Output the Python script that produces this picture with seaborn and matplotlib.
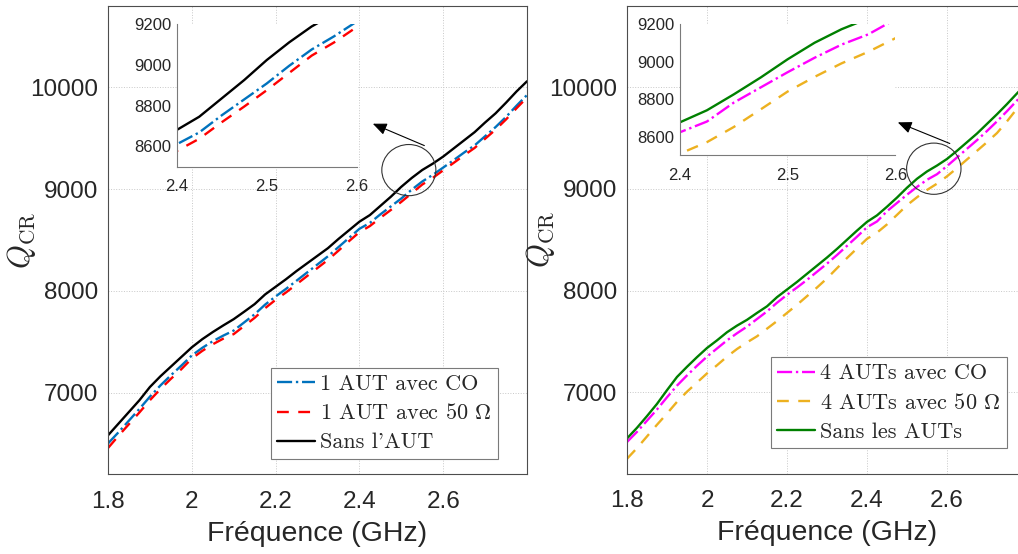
import numpy as np
import pandas as pd
import matplotlib
matplotlib.use("Agg")
import matplotlib.pyplot as plt
from matplotlib.patches import Ellipse
import seaborn as sns

# frequency grid (GHz)
freq = [1.800, 1.825, 1.850, 1.875, 1.900, 1.925, 1.950, 1.975, 2.000, 2.025,
        2.050, 2.075, 2.100, 2.125, 2.150, 2.175, 2.200, 2.225, 2.250, 2.275,
        2.300, 2.325, 2.350, 2.375, 2.400, 2.425, 2.450, 2.475, 2.500, 2.525,
        2.550, 2.575, 2.600, 2.625, 2.650, 2.675, 2.700, 2.725, 2.750, 2.775,
        2.800]

# left panel : 1 AUT
q_1aut_co = [6500, 6610, 6725, 6840, 6960, 7070, 7170, 7265, 7365, 7440,
             7505, 7560, 7610, 7690, 7770, 7865, 7945, 8020, 8100, 8180,
             8260, 8340, 8430, 8520, 8610, 8668, 8752, 8830, 8908, 8995,
             9075, 9140, 9212, 9285, 9360, 9430, 9520, 9610, 9710, 9820,
             9925]
q_1aut_50 = [6455, 6575, 6690, 6805, 6925, 7035, 7135, 7230, 7335, 7410,
             7475, 7530, 7575, 7655, 7735, 7830, 7912, 7985, 8065, 8145,
             8225, 8305, 8395, 8488, 8577, 8637, 8718, 8795, 8875, 8960,
             9045, 9110, 9185, 9258, 9333, 9405, 9495, 9585, 9685, 9795,
             9900]
q_sans_aut = [6580, 6695, 6810, 6925, 7055, 7160, 7255, 7350, 7445, 7525,
              7595, 7660, 7722, 7795, 7870, 7965, 8040, 8115, 8195, 8270,
              8345, 8420, 8510, 8595, 8680, 8745, 8835, 8925, 9023, 9110,
              9188, 9250, 9320, 9400, 9480, 9560, 9655, 9745, 9850, 9960,
              10060]

# right panel : 4 AUTs
q_4aut_co = [6510, 6610, 6720, 6830, 6950, 7065, 7165, 7260, 7350, 7430,
             7510, 7580, 7645, 7720, 7795, 7880, 7958, 8030, 8105, 8185,
             8265, 8350, 8440, 8530, 8623, 8680, 8781, 8862, 8943, 9020,
             9090, 9145, 9225, 9310, 9395, 9480, 9570, 9665, 9765, 9870,
             9975]
q_4aut_50 = [6345, 6450, 6565, 6680, 6790, 6905, 7005, 7095, 7185, 7265,
             7350, 7425, 7490, 7550, 7625, 7700, 7780, 7860, 7945, 8030,
             8120, 8220, 8320, 8415, 8509, 8570, 8651, 8745, 8840, 8918,
             8990, 9052, 9124, 9205, 9290, 9375, 9460, 9550, 9665, 9790,
             9900]
q_sans_auts = [6545, 6650, 6765, 6885, 7020, 7150, 7250, 7345, 7435, 7510,
               7590, 7655, 7712, 7780, 7845, 7935, 8010, 8085, 8165, 8245,
               8325, 8410, 8500, 8590, 8676, 8740, 8825, 8915, 9012, 9100,
               9172, 9230, 9295, 9375, 9460, 9545, 9640, 9735, 9835, 9940,
               10040]

labels_left = ["1 AUT avec CO", "1 AUT avec 50 $\\Omega$", "Sans l'AUT"]
labels_right = ["4 AUTs avec CO", "4 AUTs avec 50 $\\Omega$", "Sans les AUTs"]

main_xticks = [1.8, 2.0, 2.2, 2.4, 2.6]
main_xticklabels = ["1.8", "2", "2.2", "2.4", "2.6"]
main_yticks = [7000, 8000, 9000, 10000]
inset_xticks = [2.4, 2.5, 2.6]
inset_xticklabels = ["2.4", "2.5", "2.6"]
inset_yticks = [8600, 8800, 9000, 9200]

sns.set_theme(style="white")
plt.rcParams["font.family"] = ["Liberation Sans", "DejaVu Sans"]
plt.rcParams["mathtext.fontset"] = "cm"
plt.rcParams["xtick.direction"] = "in"
plt.rcParams["ytick.direction"] = "in"

axis_grey = "#262626"
spine_grey = "#4d4d4d"

fig = plt.figure(figsize=(10.18, 5.54), dpi=100)

W, H = 1018.0, 554.0


def px_axes(x0, y0, x1, y1):
    """axes from pixel box (top-left origin)"""
    return fig.add_axes([x0 / W, 1 - y1 / H, (x1 - x0) / W, (y1 - y0) / H])


def style_main(ax, ylab_x):
    ax.set_xlim(1.8, 2.8)
    ax.set_ylim(6200, 10800)
    ax.set_xticks(main_xticks)
    ax.set_xticklabels(main_xticklabels)
    ax.set_yticks(main_yticks)
    ax.tick_params(axis="both", labelsize=17.5, colors=axis_grey, length=4,
                   width=0.6, top=False, right=False)
    ax.tick_params(axis="x", pad=12)
    ax.tick_params(axis="y", pad=7)
    ax.grid(True, linestyle=":", color="#c8c8c8", linewidth=0.7)
    for s in ax.spines.values():
        s.set_color(spine_grey)
        s.set_linewidth(0.8)
    ax.set_xlabel("Fréquence (GHz)", fontsize=20.5, color=axis_grey, labelpad=6)
    ax.set_ylabel("$Q_{\\mathrm{CR}}$", fontsize=22, color=axis_grey)
    ax.yaxis.set_label_coords(ylab_x, 0.5)


def style_inset(ax):
    ax.set_xlim(2.4, 2.6)
    ax.set_ylim(8500, 9200)
    ax.set_xticks(inset_xticks)
    ax.set_xticklabels(inset_xticklabels)
    ax.set_yticks(inset_yticks)
    ax.tick_params(axis="both", labelsize=12, colors=axis_grey, length=3,
                   width=0.6)
    ax.tick_params(axis="x", pad=9)
    ax.tick_params(axis="y", pad=4)
    ax.set_facecolor("white")
    ax.spines["top"].set_visible(False)
    ax.spines["right"].set_visible(False)
    for s in ["left", "bottom"]:
        ax.spines[s].set_color("#7a7a7a")
        ax.spines[s].set_linewidth(0.8)
    ax.set_xlabel("")
    ax.set_ylabel("")


def draw_series(ax, series, legend):
    for vals, lab, col, ls in series:
        sns.lineplot(x=freq, y=vals, ax=ax, color=col, linestyle=ls,
                     linewidth=1.7, label=lab if legend else None,
                     legend=False)


left_series = [
    (q_1aut_co, labels_left[0], "#0072BD", "-."),
    (q_1aut_50, labels_left[1], "#FF0000", (0, (5, 4))),
    (q_sans_aut, labels_left[2], "black", "-"),
]
right_series = [
    (q_4aut_co, labels_right[0], "#FF00FF", "-."),
    (q_4aut_50, labels_right[1], "#EDB120", (0, (5, 4))),
    (q_sans_auts, labels_right[2], "#008000", "-"),
]

ax1 = px_axes(108, 6, 527, 474)
ax2 = px_axes(627, 6, 1027, 473.5)

for ax, series, bbox, circ, arrow, ylab_x in [
    (ax1, left_series, (0.931, 0.032),
     (2.518, 9187, 0.129, 503), ((2.432, 9643), (2.555, 9428)), -0.167),
    (ax2, right_series, (0.95, 0.054),
     (2.567, 9199, 0.136, 504), ((2.477, 9655), (2.607, 9447)), -0.175),
]:
    draw_series(ax, series, True)
    style_main(ax, ylab_x)
    leg = ax.legend(loc="lower right", bbox_to_anchor=bbox, borderaxespad=0,
                    fancybox=False, framealpha=1, edgecolor="#7a7a7a",
                    handlelength=1.7, handletextpad=0.2, labelspacing=0.42,
                    borderpad=0.3, prop={"family": "cmr10", "size": 16})
    leg.get_frame().set_linewidth(0.8)
    ax.add_patch(Ellipse((circ[0], circ[1]), circ[2], circ[3], fill=False,
                         edgecolor="#333333", linewidth=0.8, zorder=5))
    ax.annotate("", xy=arrow[0], xytext=arrow[1],
                arrowprops=dict(arrowstyle="-|>,head_length=0.7,head_width=0.3",
                                color="black", lw=0.8, shrinkA=0, shrinkB=0))

in1 = px_axes(176.7, 24, 356.7, 166.7)
in2 = px_axes(680, 24, 895.3, 155.3)
for ax, series in [(in1, left_series), (in2, right_series)]:
    draw_series(ax, series, False)
    style_inset(ax)

fig.savefig("out.png", dpi=100)
